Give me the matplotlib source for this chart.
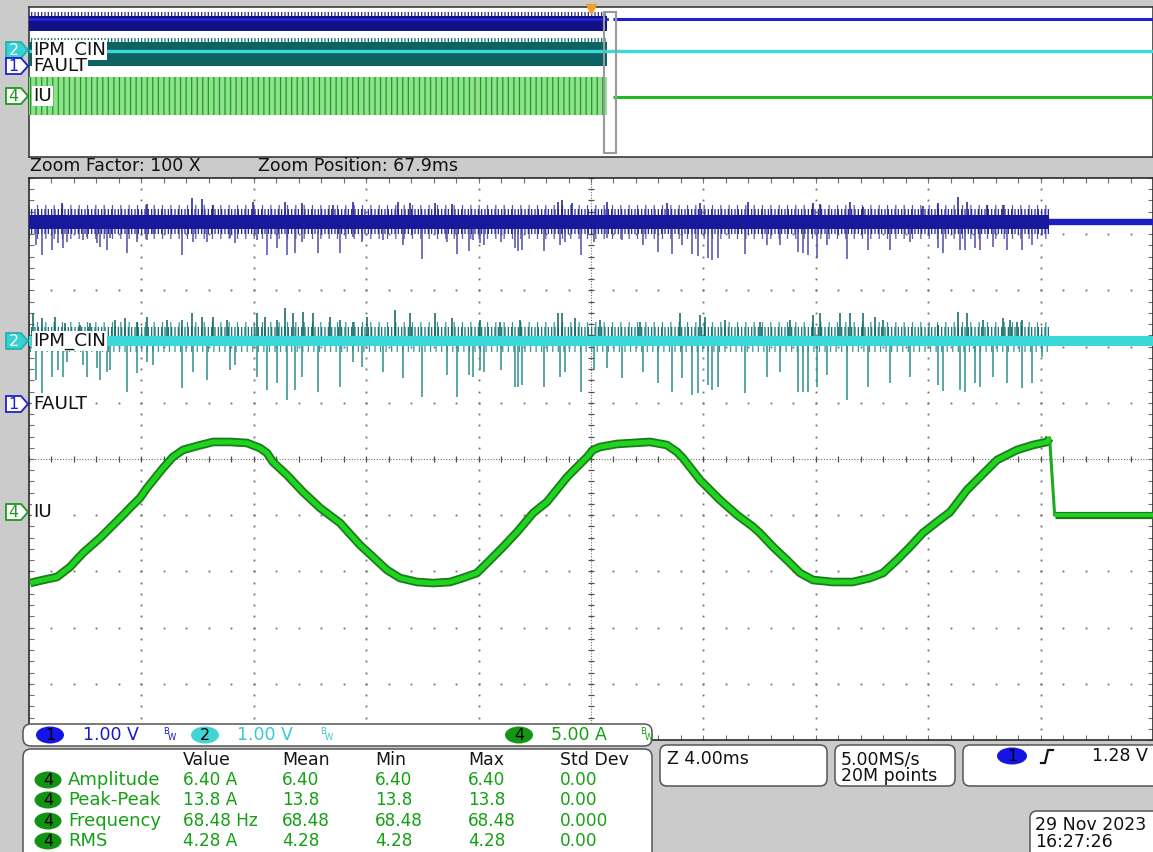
import numpy as np
import matplotlib
matplotlib.use("Agg")
import matplotlib.pyplot as plt
from matplotlib.patches import FancyBboxPatch, Ellipse, Polygon, Rectangle

# ---------------- data ----------------
ch_names = ["FAULT", "IPM_CIN", "IU"]
ch_scale_labels = ["1.00 V", "1.00 V", "5.00 A"]
zoom_factor_label = "Zoom Factor: 100 X"
zoom_position_label = "Zoom Position: 67.9ms"
timebase_label = "Z 4.00ms"
sample_rate_label = "5.00MS/s"
record_label = "20M points"
trigger_level_label = "1.28 V"
date_label = "29 Nov 2023"
time_label = "16:27:26"

meas_headers = ["Value", "Mean", "Min", "Max", "Std Dev"]
meas_names = ["Amplitude", "Peak-Peak", "Frequency", "RMS"]
meas_value = ["6.40 A", "13.8 A", "68.48 Hz", "4.28 A"]
meas_mean = ["6.40", "13.8", "68.48", "4.28"]
meas_min = ["6.40", "13.8", "68.48", "4.28"]
meas_max = ["6.40", "13.8", "68.48", "4.28"]
meas_std = ["0.00", "0.00", "0.000", "0.00"]

# zoom window (time in ms, 4 ms/div, 40 ms across)
ch1_level = 3.24      # V  FAULT idle level
ch2_level = 0.0       # V  IPM_CIN idle level
stop_t = 36.3         # ms, switching stops

spike_t = [0.25, 0.46, 0.82, 1.03, 1.21, 1.35, 1.92, 2.06, 2.42, 2.53, 2.78, 2.88,
           3.49, 3.84, 4.20, 4.41, 5.44, 5.84, 6.33, 7.15, 7.33, 8.11, 8.47, 8.83,
           9.18, 9.47, 9.72, 10.28, 11.07, 11.53, 11.85, 12.60, 13.30, 13.99, 14.88,
           15.23, 15.66, 15.80, 16.05, 16.19, 16.80, 17.29, 17.40, 17.54, 18.33,
           18.90, 19.07, 19.64, 20.11, 20.57, 21.10, 21.85, 22.38, 22.88, 23.24,
           23.59, 23.81, 24.16, 24.31, 24.52, 25.48, 26.26, 26.73, 27.37, 27.54,
           27.72, 28.04, 28.40, 29.11, 29.86, 30.64, 31.35, 32.35, 32.53, 33.13,
           33.31, 33.66, 33.84, 34.31, 34.80, 35.34, 35.69, 36.05]
ch1_spike_min = [2.83, 2.65, 2.74, 2.86, 2.78, 2.88, 2.92, 2.97, 2.86, 2.79, 2.74, 2.95,
                 2.69, 2.88, 2.92, 3.02, 2.65, 2.88, 2.88, 2.95, 2.86, 2.92, 2.65, 2.78,
                 2.65, 2.69, 2.88, 2.69, 2.69, 2.97, 2.88, 2.92, 2.83, 2.58, 2.88,
                 2.67, 2.72, 2.92, 2.86, 2.83, 2.88, 2.78, 2.72, 2.74, 2.72,
                 2.83, 2.88, 2.65, 2.88, 2.95, 2.92, 2.83, 2.70, 2.67, 2.83,
                 2.67, 2.63, 2.60, 2.56, 2.60, 2.67, 2.83, 2.83, 2.70, 2.69,
                 2.65, 2.60, 2.83, 2.58, 2.74, 2.74, 2.88, 2.78, 2.69, 2.74,
                 2.74, 2.78, 2.74, 2.79, 2.74, 2.74, 2.83, 3.01]
ch2_spike_min = [-0.69, -0.93, -0.64, -0.52, -0.64, -0.37, -0.43, -0.64, -0.48, -0.69, -0.55, -0.52,
                 -0.91, -0.57, -0.37, -0.43, -0.84, -0.55, -0.69, -0.52, -0.43, -0.64, -0.87, -0.75,
                 -1.05, -0.87, -0.64, -0.91, -0.82, -0.37, -0.46, -0.55, -0.66, -1.00, -0.61,
                 -1.00, -0.61, -0.64, -0.52, -0.55, -0.52, -0.82, -0.82, -0.78, -0.82,
                 -0.64, -0.55, -0.91, -0.52, -0.48, -0.66, -0.55, -0.75, -0.91, -0.66,
                 -0.96, -0.93, -0.78, -0.87, -0.82, -0.93, -0.64, -0.55, -0.91, -0.91,
                 -0.91, -0.82, -0.61, -1.05, -0.82, -0.75, -0.64, -0.78, -0.89, -0.87,
                 -0.91, -0.75, -0.82, -0.64, -0.75, -0.84, -0.75, -0.28]

ch1_up_t = [1.17, 4.20, 5.80, 6.16, 6.55, 7.97, 9.11, 9.72, 10.82, 11.53, 13.13, 13.56,
            14.45, 15.05, 18.83, 18.97, 19.32, 20.57, 22.70, 23.88, 25.59, 27.90, 28.15,
            29.22, 29.68, 31.81, 32.35, 33.06, 33.38, 34.09, 34.66]
ch1_up_max = [3.58, 3.56, 3.67, 3.65, 3.54, 3.59, 3.60, 3.57, 3.54, 3.59, 3.59, 3.57,
              3.58, 3.55, 3.59, 3.62, 3.58, 3.60, 3.57, 3.58, 3.60, 3.58, 3.56,
              3.59, 3.51, 3.52, 3.58, 3.68, 3.59, 3.54, 3.54]
ch2_up_t = [0.14, 0.46, 0.93, 1.28, 1.81, 2.17, 3.06, 3.42, 3.84, 4.20, 4.91, 5.44, 5.80,
            6.16, 6.55, 7.05, 8.11, 8.40, 8.83, 9.11, 9.40, 9.75, 10.11, 10.71, 11.07,
            11.53, 12.03, 13.02, 13.56, 14.45, 15.05, 16.05, 16.76, 17.47, 18.83, 18.97,
            19.43, 20.32, 21.74, 23.17, 23.88, 24.06, 24.77, 26.01, 27.08, 27.90, 28.15,
            28.86, 29.22, 29.68, 30.11, 30.39, 32.35, 33.06, 33.38, 33.95, 34.66, 34.91,
            35.16, 35.34]
ch2_up_max = [0.50, 0.41, 0.43, 0.32, 0.28, 0.32, 0.37, 0.41, 0.34, 0.43, 0.37, 0.37, 0.50,
              0.43, 0.43, 0.37, 0.50, 0.43, 0.37, 0.59, 0.50, 0.52, 0.50, 0.43, 0.37,
              0.34, 0.43, 0.55, 0.50, 0.50, 0.41, 0.37, 0.34, 0.37, 0.50, 0.50,
              0.41, 0.37, 0.34, 0.50, 0.46, 0.43, 0.37, 0.34, 0.37, 0.46, 0.50,
              0.50, 0.50, 0.50, 0.43, 0.37, 0.28, 0.52, 0.50, 0.37, 0.41, 0.37,
              0.34, 0.37]

iu_t = [0.04, 0.50, 1.00, 1.46, 1.92, 2.53, 3.35, 3.59, 3.95, 4.20, 4.77, 5.12, 5.48,
        5.98, 6.55, 7.15, 7.76, 8.22, 8.47, 8.68, 9.18, 9.75, 10.36, 11.07, 11.78,
        12.24, 12.74, 13.20, 13.81, 14.38, 14.98, 15.44, 15.94, 16.41, 16.87, 17.37,
        17.94, 18.43, 19.15, 19.50, 19.86, 20.07, 20.32, 20.92, 21.49, 22.10, 22.70,
        23.06, 23.27, 23.88, 24.59, 25.20, 25.77, 26.01, 26.48, 26.97, 27.44, 27.90,
        28.61, 29.32, 29.93, 30.39, 30.89, 31.35, 31.81, 32.31, 32.78, 33.38, 34.45,
        35.16, 35.73, 36.23, 36.32]
iu_a = [-6.32, -6.05, -5.78, -4.89, -3.65, -2.31, -0.27, 0.36, 1.25, 2.14, 3.91, 4.89, 5.52,
        5.87, 6.23, 6.23, 6.14, 5.69, 5.25, 4.45, 3.29, 1.78, 0.36, -0.98, -2.94,
        -4.00, -5.16, -5.87, -6.23, -6.32, -6.23, -5.87, -5.43, -4.27, -3.11, -1.78,
        -0.09, 0.89, 3.11, 4.00, 4.89, 5.52, 5.78, 6.05, 6.14, 6.23, 5.96,
        5.34, 4.80, 2.85, 1.07, -0.27, -1.33, -1.87, -3.11, -4.27, -5.43, -6.05,
        -6.23, -6.23, -5.87, -5.43, -4.27, -3.11, -1.87, -0.89, 0.00, 1.96, 4.63,
        5.52, 5.96, 6.23, 6.58]
iu_off_t = [36.50, 40.0]
iu_off_a = [-0.27, -0.27]

# overview record (divisions across, 10 div)
ov_stop_div = 5.14
ov_ch1_band = [2.40, 3.40]
ov_ch1_hair = [3.40, 3.70]
ov_ch2_band = [-1.00, 0.55]
ov_ch2_hair = [0.55, 0.85]
ov_iu_band = [-6.40, 6.40]

# ---------------- layout / style ----------------
W, H = 1153, 852
pos1, pos2, pos4 = 0.98, 2.10, -0.943     # vertical positions (div)
sc1, sc2, sc4 = 1.0, 1.0, 5.0             # per-div scales

def d1(v): return np.asarray(v) / sc1 + pos1
def d2(v): return np.asarray(v) / sc2 + pos2
def d4(v): return np.asarray(v) / sc4 + pos4

BLUE_CORE = '#18189c'
BLUE_SPIKE = '#4d4da8'
BLUE_UP = '#1c1c8a'
BLUE_LINE = '#1e1ec0'
CYAN = '#3ad8d8'
TEAL = '#137070'
TEAL_SPIKE = '#2f8e8e'
GREEN_DARK = '#1a7c1a'
GREEN = '#1fd41f'
GRID = '#6e6e6e'

plt.rcParams['hatch.linewidth'] = 0.9
fig = plt.figure(figsize=(W / 100, H / 100), dpi=100, facecolor='#cbcbcb')


def px_axes(x0, y0, x1, y1, z=0):
    a = fig.add_axes([x0 / W, 1 - y1 / H, (x1 - x0) / W, (y1 - y0) / H])
    a.set_zorder(z)
    return a

# ---------------- overview panel ----------------
ovw = px_axes(29, 7, 1153, 157, z=1)
ovw.set_xlim(0, 10)
ovw.set_ylim(-5, 5)
ovw.set_xticks([]); ovw.set_yticks([])
for s in ovw.spines.values():
    s.set_color('#3a3a3a'); s.set_linewidth(1.2)

xs = [0, ov_stop_div]
ovw.fill_between(xs, d1(ov_ch1_hair[0]), d1(ov_ch1_hair[1]), facecolor='none',
                 edgecolor='#2a2a8a', hatch='|||||', lw=0, zorder=2)
ovw.fill_between(xs, d1(ov_ch1_band[0]), d1(ov_ch1_band[1]), color='#121288', lw=0, zorder=3)
ovw.plot(xs, [d1(ch1_level)] * 2, color='#2424d0', lw=2.0, zorder=4)
ovw.plot([5.2, 10], [d1(ch1_level)] * 2, color='#2020c8', lw=2.2, zorder=4, solid_capstyle='butt')

ovw.fill_between(xs, d2(ov_ch2_hair[0]), d2(ov_ch2_hair[1]), facecolor='none',
                 edgecolor=TEAL, hatch='|||||', lw=0, zorder=2)
ovw.fill_between(xs, d2(ov_ch2_band[0]), d2(ov_ch2_band[1]), color='#0d6262', lw=0, zorder=3)
ovw.plot([0, 10], [d2(ch2_level)] * 2, color=CYAN, lw=2.4, zorder=4, solid_capstyle='butt')

ovw.fill_between(xs, d4(ov_iu_band[0]), d4(ov_iu_band[1]), facecolor='#8ee28e',
                 edgecolor='#1f9a1f', hatch='|||', lw=0, zorder=3)
ovw.plot([5.2, 10], [d4(iu_off_a[0])] * 2, color='#22b822', lw=2.2, zorder=4, solid_capstyle='butt')

ovw.add_patch(Rectangle((ov_stop_div - 0.02, -4.73), 0.1, 9.4, fill=False,
                        edgecolor='#9a9a9a', lw=1.5, zorder=5))
ovw.plot([5.0], [4.85], marker='v', color='#f0a030', ms=7, zorder=6, clip_on=False)

# ---------------- main (zoom) panel ----------------
main = px_axes(29, 178, 1153, 740, z=1)
main.set_xlim(0, 40)
main.set_ylim(-5, 5)
minor_x = np.arange(0, 40.001, 0.8)
minor_y = np.arange(-5, 5.001, 0.2)
main.set_xticks(minor_x)
main.set_yticks(minor_y)
main.tick_params(direction='in', length=3.5, width=0.8, color=GRID,
                 labelbottom=False, labelleft=False, top=True, right=True)
for s in main.spines.values():
    s.set_color('#2a2a2a'); s.set_linewidth(1.2)

for k in range(1, 10):
    if k == 5:
        continue
    main.plot(np.full_like(minor_y, 4.0 * k), minor_y, ls='none', marker='s',
              ms=1.3, mew=0, color=GRID, zorder=1)
for j in range(-4, 5):
    if j == 0:
        continue
    main.plot(minor_x, np.full_like(minor_x, float(j)), ls='none', marker='s',
              ms=1.3, mew=0, color=GRID, zorder=1)
main.axhline(0, color=GRID, lw=0.8, ls=(0, (1, 1.5)), zorder=1)
main.axvline(20, color=GRID, lw=0.8, ls=(0, (1, 1.5)), zorder=1)
main.plot(minor_x, np.zeros_like(minor_x), ls='none', marker='|', ms=4, mew=0.9,
          color='#505050', zorder=1)
main.plot(np.full_like(minor_y, 20.0), minor_y, ls='none', marker='_', ms=4, mew=0.9,
          color='#505050', zorder=1)

# channel 1 (FAULT)
ts = [0, stop_t]
main.fill_between(ts, d1(ch1_level - 0.30), d1(ch1_level + 0.30), facecolor='none',
                  edgecolor='#5a5ab0', hatch='||', lw=0, zorder=2)
main.fill_between(ts, d1(ch1_level - 0.22), d1(ch1_level + 0.22), facecolor='none',
                  edgecolor='#22228e', hatch='|||||', lw=0, zorder=2)
main.vlines(spike_t, d1(ch1_level), d1(ch1_spike_min), color=BLUE_SPIKE, lw=1.1, zorder=3)
main.vlines(ch1_up_t, d1(ch1_level), d1(ch1_up_max), color=BLUE_UP, lw=1.1, zorder=3)
main.fill_between(ts, d1(ch1_level - 0.13), d1(ch1_level + 0.13), color=BLUE_CORE, lw=0, zorder=4)
main.plot([stop_t, 40], [d1(ch1_level)] * 2, color=BLUE_LINE, lw=4.6, zorder=4,
          solid_capstyle='butt')

# channel 2 (IPM_CIN)
main.fill_between(ts, d2(ch2_level), d2(ch2_level + 0.33), facecolor='none',
                  edgecolor='#3a9a9a', hatch='||', lw=0, zorder=2)
main.fill_between(ts, d2(ch2_level), d2(ch2_level + 0.25), facecolor='none',
                  edgecolor=TEAL, hatch='|||||', lw=0, zorder=2)
main.fill_between(ts, d2(ch2_level - 0.2), d2(ch2_level), facecolor='none',
                  edgecolor='#3a9a9a', hatch='|||', lw=0, zorder=2)
main.vlines(spike_t, d2(ch2_level), d2(ch2_spike_min), color=TEAL_SPIKE, lw=1.1, zorder=3)
main.vlines(ch2_up_t, d2(ch2_level), d2(ch2_up_max), color='#0c6262', lw=1.1, zorder=3)
main.fill_between([0, 40], d2(ch2_level - 0.09), d2(ch2_level + 0.09), color=CYAN, lw=0, zorder=4)

# channel 4 (IU)
main.plot(iu_t, d4(iu_a), color=GREEN_DARK, lw=6.2, zorder=5, solid_joinstyle='round',
          solid_capstyle='butt')
main.plot(iu_t, d4(iu_a), color=GREEN, lw=3.6, zorder=6, solid_joinstyle='round',
          solid_capstyle='butt')
main.plot([iu_t[-1], iu_off_t[0]], d4([iu_a[-1], iu_off_a[0]]), color='#1faa1f', lw=2.2, zorder=5)
main.plot(iu_off_t, d4(iu_off_a), color=GREEN_DARK, lw=5.2, zorder=5, solid_capstyle='butt')
main.plot(iu_off_t, d4(iu_off_a), color=GREEN, lw=2.8, zorder=6, solid_capstyle='butt')

# ---------------- overlay (annotations, readouts) ----------------
ov = fig.add_axes([0, 0, 1, 1])
ov.set_zorder(10)
ov.patch.set_alpha(0)
ov.set_xlim(0, W)
ov.set_ylim(H, 0)
ov.axis('off')

FS = 12.5


def flag(y, label, face, edge, tc):
    pts = [(6, y - 8), (21, y - 8), (28, y), (21, y + 8), (6, y + 8)]
    ov.add_patch(Polygon(pts, closed=True, fc=face, ec=edge, lw=1.3))
    ov.text(13.5, y + 0.5, label, color=tc, ha='center', va='center', fontsize=11.5)


def trace_label(y, text):
    ov.text(33, y, text, ha='left', va='center', fontsize=13.2, color='#111111',
            bbox=dict(boxstyle='square,pad=0.06', fc='white', ec='none'))

# overview labels
flag(50, '2', '#36d2d2', '#28b0b0', 'white')
flag(66, '1', 'white', '#2020d0', '#2020d0')
flag(96, '4', 'white', '#1a9a1a', '#1a9a1a')
trace_label(50, ch_names[1])
trace_label(66, ch_names[0])
trace_label(96, ch_names[2])

# main labels
flag(341, '2', '#36d2d2', '#28b0b0', 'white')
flag(404, '1', 'white', '#2020d0', '#2020d0')
flag(512, '4', 'white', '#1a9a1a', '#1a9a1a')
trace_label(341, ch_names[1])
trace_label(404, ch_names[0])
trace_label(512, ch_names[2])

ov.text(30, 166, zoom_factor_label, fontsize=FS, color='#111111', va='center')
ov.text(258, 166, zoom_position_label, fontsize=FS, color='#111111', va='center')


def rbox(x, y, w, h, r=7):
    ov.add_patch(FancyBboxPatch((x, y), w, h, boxstyle=f'round,pad=0,rounding_size={r}',
                                fc='white', ec='#555555', lw=1.1))


def badge(cx, cy, label, color, w=28, h=17):
    ov.add_patch(Ellipse((cx, cy), w, h, fc=color, ec='none'))
    ov.text(cx, cy + 0.5, label, ha='center', va='center', fontsize=11.5, color='#000000')


def bw(x, y, color):
    ov.text(x, y - 3, 'B', fontsize=6, color=color, ha='left', va='center')
    ov.text(x + 5, y + 2, 'W', fontsize=6, color=color, ha='left', va='center')

# channel scale readout
rbox(23, 724, 629, 22, r=8)
badge(50, 735, '1', '#1414e6')
ov.text(83, 735, ch_scale_labels[0], fontsize=FS, color='#1818c8', va='center')
bw(163, 735, '#1818c8')
badge(205, 735, '2', '#40d4d4')
ov.text(237, 735, ch_scale_labels[1], fontsize=FS, color='#36caca', va='center')
bw(320, 735, '#36caca')
badge(519, 735, '4', '#149614')
ov.text(551, 735, ch_scale_labels[2], fontsize=FS, color='#12a012', va='center')
bw(640, 735, '#12a012')

# measurement table
rbox(23, 749, 629, 120, r=8)
col_x = [183, 282, 375, 468, 560]
for cx, hd in zip(col_x, meas_headers):
    ov.text(cx, 760, hd, fontsize=FS, color='#151515', va='center')
row_y = [780, 800, 821, 841]
MG = '#14a014'
for i, ry in enumerate(row_y):
    badge(48, ry, '4', '#139313', w=27, h=17)
    ov.text(68, ry, meas_names[i], fontsize=FS + 0.5, color=MG, va='center')
    for cx, col in zip(col_x, [meas_value, meas_mean, meas_min, meas_max, meas_std]):
        ov.text(cx, ry, col[i], fontsize=FS - 0.3, color=MG, va='center')

# timebase / acquisition / trigger boxes
rbox(660, 745, 167, 41)
ov.text(667, 759, timebase_label, fontsize=FS, color='#111111', va='center')
rbox(835, 745, 120, 41)
ov.text(841, 759, sample_rate_label, fontsize=FS, color='#111111', va='center')
ov.text(841, 776, record_label, fontsize=FS, color='#111111', va='center')
rbox(963, 745, 200, 41)
badge(1012, 756, '1', '#1414e6', w=30, h=17)
ov.plot([1041, 1045, 1048, 1053], [763, 763, 750, 750], color='#111111', lw=1.6)
ov.text(1148, 756, trigger_level_label, fontsize=FS, color='#111111', va='center', ha='right')
rbox(1030, 811, 135, 50)
ov.text(1035, 825, date_label, fontsize=FS, color='#111111', va='center')
ov.text(1035, 842, time_label, fontsize=FS, color='#111111', va='center')

fig.savefig('out.png', dpi=100, facecolor=fig.get_facecolor())
